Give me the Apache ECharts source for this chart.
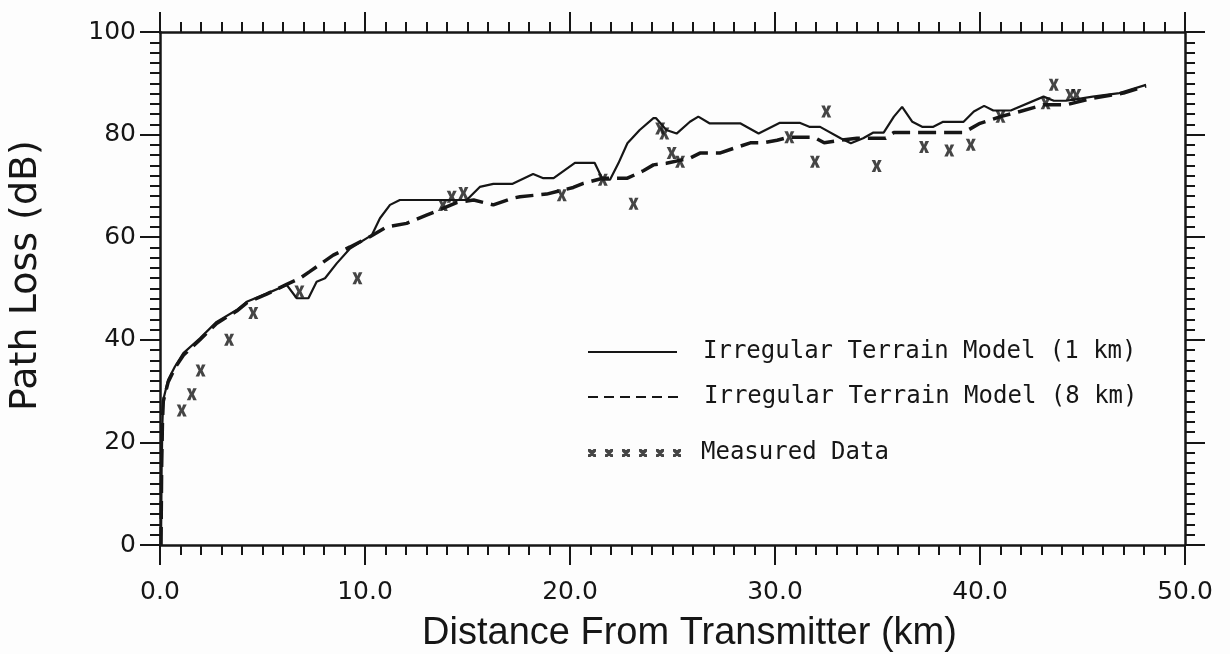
<!DOCTYPE html>
<html>
<head>
<meta charset="utf-8">
<script src="https://cdn.jsdelivr.net/npm/echarts@6/dist/echarts.min.js"></script>
<style>
  html, body { margin: 0; padding: 0; background: #fdfdfd; }
  #chart { width: 1230px; height: 654px; }
</style>
</head>
<body>
<div id="chart"></div>
<script>
// Irregular Terrain Model, 1 km terrain resolution: [distance km, path loss dB]
const itm1km = [
  [0.05, 0], [0.08, 15], [0.12, 24], [0.16, 28.3], [0.4, 32.2], [0.73, 34.8],
  [1.14, 37.4], [1.95, 40.3], [2.76, 43.5], [3.74, 45.8], [4.23, 47.4], [5.2, 49],
  [6.18, 50.7], [6.67, 48.1], [7.24, 48.1], [7.64, 51.3], [8.05, 52], [8.62, 54.9],
  [9.27, 57.8], [10.33, 60.4], [10.73, 63.7], [11.22, 66.3], [11.7, 67.25],
  [13.66, 67.25], [14.96, 67.25], [15.6, 69.8], [16.26, 70.4], [17.2, 70.4],
  [18.2, 72.3], [18.7, 71.5], [19.2, 71.5], [20.24, 74.5], [21.2, 74.5], [21.6, 71.2],
  [21.95, 71.2], [22.36, 74.4], [22.8, 78.3], [23.4, 80.9], [24.07, 83.2], [24.2, 83.2],
  [24.7, 80.9], [25.2, 80.2], [25.85, 82.5], [26.26, 83.5], [26.8, 82.2], [28.3, 82.2],
  [29.2, 80.2], [30.24, 82.3], [31.2, 82.3], [31.7, 81.5], [32.2, 81.5], [33.2, 79.3],
  [33.7, 78.3], [34.3, 79.3], [34.8, 80.4], [35.3, 80.4], [35.8, 83.5], [36.2, 85.4],
  [36.7, 82.5], [37.2, 81.5], [37.7, 81.5], [38.2, 82.5], [39.2, 82.5], [39.7, 84.5],
  [40.2, 85.6], [40.65, 84.7], [41.5, 84.7], [43.1, 87.4], [43.6, 86.6], [44.2, 86.6],
  [45.5, 87.4], [46.8, 88.1], [48.1, 89.7]
];

// Irregular Terrain Model, 8 km terrain resolution
const itm8km = [
  [0.05, 0], [0.08, 15], [0.12, 24], [0.16, 28], [0.4, 31.8], [0.73, 34.5],
  [1.14, 37], [1.95, 40], [2.76, 43.2], [3.74, 45.6], [4.23, 47.2], [5.2, 48.9],
  [6.18, 50.8], [6.83, 52], [7.3, 53.3], [8.45, 56.5], [9.27, 58.1], [10.24, 60.1],
  [11.06, 62], [12.03, 62.7], [13, 64.3], [13.8, 65.6], [14.5, 66.8], [15.3, 67.25],
  [16.26, 66.3], [17.2, 67.6], [17.56, 67.9], [18.86, 68.4], [20.16, 69.7], [20.65, 70.5],
  [21.6, 71.5], [22.8, 71.5], [23.6, 73], [24.07, 74.1], [24.7, 74.4], [25.85, 75.4],
  [26.34, 76.4], [27.3, 76.4], [27.97, 77.3], [28.8, 78.4], [29.4, 78.4], [30.1, 78.9],
  [30.7, 79.5], [31.9, 79.5], [32.4, 78.4], [33.2, 78.9], [34, 79.3], [35.4, 79.3],
  [35.8, 80.4], [37.7, 80.4], [39.2, 80.4], [40, 82.2], [41, 83.5], [41.95, 84.5],
  [43.1, 85.8], [44.2, 85.8], [45.5, 87.1], [47, 88.1], [48.1, 89.5]
];

// measured path loss
const measured = [
  [1.06, 26.2], [1.55, 29.4], [1.98, 34], [3.37, 40], [4.55, 45.2], [6.8, 49.4],
  [9.63, 52], [13.8, 66.3], [14.23, 67.9], [14.8, 68.6], [19.6, 68.2], [21.6, 71.2],
  [23.1, 66.5], [24.4, 81.2], [24.6, 80.2], [24.96, 76.4], [25.37, 74.7], [30.7, 79.5],
  [31.95, 74.7], [32.5, 84.5], [34.96, 73.9], [37.27, 77.6], [38.5, 76.9], [39.55, 78],
  [41, 83.5], [43.2, 86.1], [43.6, 89.7], [44.4, 87.7], [44.7, 87.7]
];

const seriesNames = [
  "Irregular Terrain Model (1 km)",
  "Irregular Terrain Model (8 km)",
  "Measured Data"
];
const xTicks = [0, 10, 20, 30, 40, 50];
const yTicks = [0, 20, 40, 60, 80, 100];

const ink = "#161616";
const crossPath = "path://M0,0 L3.6,0 L5,3.8 L6.4,0 L10,0 L7,6 L10,12 L6.4,12 L5,8.2 L3.6,12 L0,12 L3,6 Z";

// legend samples
const solidIcon = "path://M0,0 L89,0 L89,2 L0,2 Z";
let dashedIcon = "path://";
for (let i = 0; i < 6; i++) {
  const x0 = i * 16;
  dashedIcon += "M" + x0 + ",0 L" + (x0 + 10) + ",0 L" + (x0 + 10) + ",2 L" + x0 + ",2 Z ";
}
let crossIcon = "path://";
for (let i = 0; i < 6; i++) {
  const x0 = i * 17;
  crossIcon += "M" + x0 + ",0 L" + (x0 + 2.5) + ",0 L" + (x0 + 8) + ",5.5 L" + (x0 + 8) + ",8 L" +
    (x0 + 5.5) + ",8 L" + x0 + ",2.5 Z ";
  crossIcon += "M" + (x0 + 8) + ",0 L" + (x0 + 8) + ",2.5 L" + (x0 + 2.5) + ",8 L" + x0 + ",8 L" +
    x0 + ",5.5 L" + (x0 + 5.5) + ",0 Z ";
}

function frameAxis(extra) {
  return Object.assign({
    type: "value",
    axisLine: { show: true, onZero: false, lineStyle: { color: ink, width: 2.5 } },
    axisTick: { show: true, inside: false, length: 20, lineStyle: { color: ink, width: 2 } },
    minorTick: { show: true, splitNumber: 10, length: 10, lineStyle: { color: ink, width: 2 } },
    splitLine: { show: false },
    axisLabel: { show: false }
  }, extra);
}

const tickFont = { fontFamily: "DejaVu Sans", fontSize: 25, color: ink };
const legendText = (pad) => ({
  fontFamily: "DejaVu Sans Mono", fontSize: 24, color: ink, padding: [0, 0, 0, pad]
});

const chart = echarts.init(document.getElementById("chart"));
chart.setOption({
  backgroundColor: "#fdfdfd",
  animation: false,
  grid: { left: 160, right: 45, top: 32, bottom: 109, containLabel: false, outerBoundsMode: "none" },
  xAxis: [
    frameAxis({
      position: "bottom", min: xTicks[0], max: xTicks[xTicks.length - 1], interval: 10,
      name: "Distance From Transmitter (km)",
      nameLocation: "middle", nameGap: 70,
      nameTextStyle: { fontFamily: "Liberation Sans", fontSize: 38, color: ink, padding: [0, 0, 0, 34] },
      axisLabel: Object.assign({ show: true, margin: 35, formatter: v => v.toFixed(1) }, tickFont)
    }),
    frameAxis({ position: "top", min: 0, max: 50, interval: 10 })
  ],
  yAxis: [
    frameAxis({
      position: "left", min: yTicks[0], max: yTicks[yTicks.length - 1], interval: 20,
      name: "Path Loss (dB)",
      nameLocation: "middle", nameGap: 115,
      nameTextStyle: { fontFamily: "DejaVu Sans", fontSize: 38, color: ink, padding: [0, 0, 0, 26] },
      axisLabel: Object.assign({ show: true, margin: 24 }, tickFont)
    }),
    frameAxis({ position: "right", min: 0, max: 100, interval: 20 })
  ],
  legend: [
    { left: 583, top: 335, selectedMode: false, itemWidth: 89, itemHeight: 2,
      data: [{ name: seriesNames[0], icon: solidIcon }], textStyle: legendText(21) },
    { left: 583, top: 380, selectedMode: false, itemWidth: 90, itemHeight: 2,
      data: [{ name: seriesNames[1], icon: dashedIcon }], textStyle: legendText(21) },
    { left: 583, top: 436, selectedMode: false, itemWidth: 93, itemHeight: 8,
      data: [{ name: seriesNames[2], icon: crossIcon }], textStyle: legendText(15) }
  ],
  series: [
    {
      name: seriesNames[0], type: "line", data: itm1km,
      symbol: "none", smooth: false, z: 3,
      itemStyle: { color: ink },
      lineStyle: { color: ink, width: 2.2 }
    },
    {
      name: seriesNames[1], type: "line", data: itm8km,
      symbol: "none", smooth: false, z: 2,
      itemStyle: { color: ink },
      lineStyle: { color: ink, width: 3.5, type: [18, 8] }
    },
    {
      name: seriesNames[2], type: "scatter", data: measured,
      symbol: crossPath, symbolSize: [10, 12], z: 4,
      itemStyle: { color: ink }
    }
  ]
});
</script>
</body>
</html>
